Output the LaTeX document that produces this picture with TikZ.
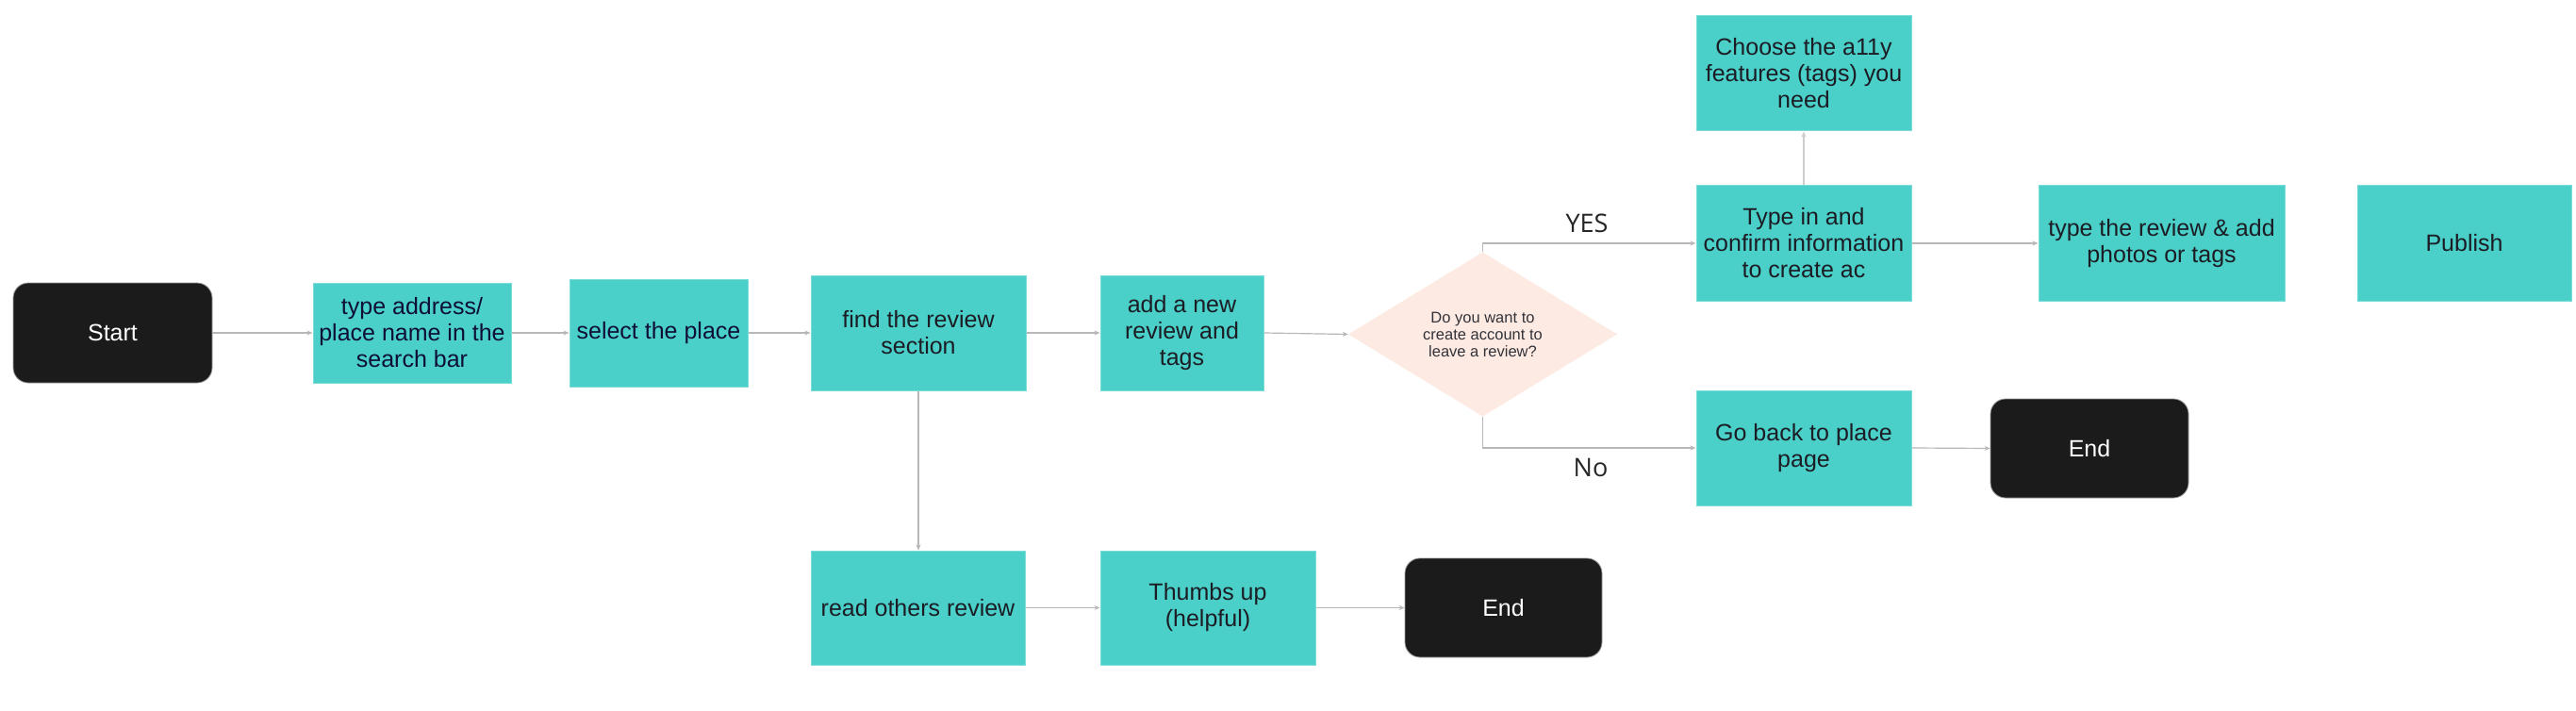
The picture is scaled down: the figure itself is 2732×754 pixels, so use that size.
\documentclass[tikz,border=0pt]{standalone}
\usepackage{fontspec}
\setmainfont{Liberation Sans}
\newfontfamily\lblfont{Open Sans}
\usetikzlibrary{shapes.geometric,arrows.meta}
\definecolor{tealbox}{HTML}{4AD0C8}
\definecolor{tealedge}{HTML}{7ADDD7}
\definecolor{termfill}{HTML}{1B1B1B}
\definecolor{termedge}{HTML}{9A9A9A}
\definecolor{diafill}{HTML}{FDEAE2}
\definecolor{linegray}{HTML}{B8B8B8}
\definecolor{boxtext}{HTML}{1C1C24}
\definecolor{navytext}{HTML}{0E0E38}
\begin{document}
\begin{tikzpicture}[x=1pt,y=-1pt,
  stepbox/.style={rectangle, fill=tealbox, draw=tealedge, line width=1pt, inner sep=3pt,
    align=center, text=boxtext, font=\fontsize{25}{28}\selectfont},
  term/.style={rectangle, rounded corners=16pt, fill=termfill, draw=termedge, line width=0.8pt,
    text=white, font=\fontsize{25}{28}\selectfont},
  decision/.style={diamond, fill=diafill, inner sep=0pt, align=center,
    font=\fontsize{16.5}{18}\selectfont, text=boxtext!90},
  conn/.style={draw=linegray, line width=1.2pt, -{Stealth[length=6pt,width=5pt]}},
  lbl/.style={font=\lblfont\fontsize{27}{30}\selectfont, text=black!85}]
\useasboundingbox (0,0) rectangle (2732,754);
\fill[white] (0,0) rectangle (2732,754);

% top row
\node[term, minimum width=211pt, minimum height=106pt] (start) at (119.5,353) {Start};
\node[stepbox, text=navytext, minimum width=210pt, minimum height=106pt] (addr) at (437,353)
  {type address/\\place name in the\\search bar};
\node[stepbox, text=navytext, minimum width=189pt, minimum height=114pt] (select) at (698.5,353)
  {select the place};
\node[stepbox, minimum width=228pt, minimum height=122pt] (find) at (974,353)
  {find the review\\section};
\node[stepbox, minimum width=173pt, minimum height=122pt] (add) at (1253.5,353)
  {add a new\\review and\\tags};
\node[decision, minimum width=285pt, minimum height=169pt] (dia) at (1572.5,354.5)
  {Do you want to\\create account to\\leave a review?};

% yes branch
\node[stepbox, minimum width=228pt, minimum height=122pt] (choose) at (1913,78)
  {Choose the a11y\\features (tags) you\\need};
\node[stepbox, minimum width=228pt, minimum height=122pt] (typein) at (1913,258)
  {Type in and\\confirm information\\to create ac};
\node[stepbox, minimum width=261pt, minimum height=122pt] (typerev) at (2292.5,258)
  {type the review \& add\\photos or tags};
\node[stepbox, minimum width=227pt, minimum height=122pt] (publish) at (2613.5,258)
  {Publish};

% no branch
\node[stepbox, minimum width=228pt, minimum height=122pt] (goback) at (1913,475)
  {Go back to place\\page};
\node[term, minimum width=210pt, minimum height=105pt] (endA) at (2216,475.5) {End};

% bottom row
\node[stepbox, minimum width=227pt, minimum height=121pt] (read) at (973.5,644.5)
  {read others review};
\node[stepbox, minimum width=228pt, minimum height=121pt] (thumbs) at (1281,644.5)
  {Thumbs up\\(helpful)};
\node[term, minimum width=209pt, minimum height=105pt] (endB) at (1594.5,644.5) {End};

% labels
\node[lbl] (yes) at (1683,237) {YES};
\node[lbl] (no) at (1687,496) {No};

% connectors
\draw[conn] (start.east) -- (addr.west);
\draw[conn] (addr.east) -- (select.west);
\draw[conn] (select.east) -- (find.west);
\draw[conn] (find.east) -- (add.west);
\draw[conn] (add.east) -- (dia.west);
\draw[conn] (dia.north) |- (typein.west);
\draw[conn] (dia.south) |- (goback.west);
\draw[conn, draw=linegray!70] (typein.north) -- (choose.south);
\draw[conn] (typein.east) -- (typerev.west);
\draw[conn] (goback.east) -- (endA.west);
\draw[conn] (find.south) -- (find.south |- read.north);
\draw[conn] (read.east) -- (thumbs.west);
\draw[conn] (thumbs.east) -- (endB.west);
\end{tikzpicture}
\end{document}
